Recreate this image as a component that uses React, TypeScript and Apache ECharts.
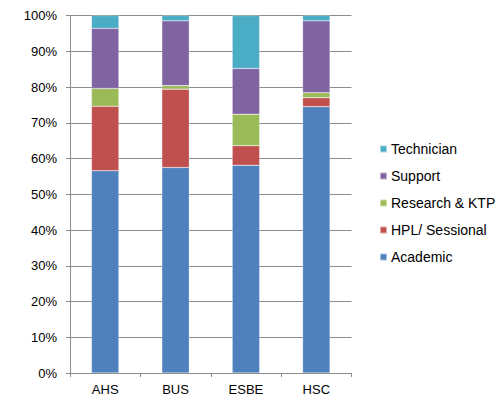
import React, { useEffect, useRef } from "react";
import * as echarts from "echarts";

const categories = ["AHS", "BUS", "ESBE", "HSC"];
const academic = [56.6, 57.5, 58.1, 74.5];
const hplSessional = [18.0, 21.9, 5.5, 2.5];
const researchKtp = [5.0, 1.0, 8.8, 1.4];
const support = [16.8, 18.1, 12.8, 20.1];
const technician = [3.6, 1.5, 14.8, 1.5];
const seriesNames = ["Academic", "HPL/ Sessional", "Research & KTP", "Support", "Technician"];
const seriesColors = ["#4F81BD", "#C0504D", "#9BBB59", "#8064A2", "#4BACC6"];

export default function App() {
  const ref = useRef<HTMLDivElement>(null);
  useEffect(() => {
    if (!ref.current) return;
    const chart = echarts.init(ref.current, undefined, { renderer: "svg" });
    const data = [academic, hplSessional, researchKtp, support, technician];
    const font = "'Liberation Sans', Arial, sans-serif";
    chart.setOption({
      animation: false,
      grid: { left: 70, top: 15.5, right: 151.5, bottom: 24 },
      legend: {
        orient: "vertical",
        left: 374,
        top: 137,
        itemWidth: 7,
        itemHeight: 7,
        itemGap: 13,
        icon: "rect",
        data: [...seriesNames].reverse(),
        textStyle: { fontFamily: font, fontSize: 14, color: "#000", padding: [0, 0, 0, -1] },
      },
      xAxis: {
        type: "category",
        data: categories,
        axisLine: { lineStyle: { color: "#8c8c8c" } },
        axisTick: { show: true, length: 4, lineStyle: { color: "#8c8c8c" } },
        axisLabel: { fontFamily: font, fontSize: 13, color: "#000", margin: 10 },
      },
      yAxis: {
        type: "value",
        min: 0,
        max: 100,
        interval: 10,
        axisLine: { show: true, lineStyle: { color: "#8c8c8c" } },
        axisTick: { show: true, length: 4, lineStyle: { color: "#8c8c8c" } },
        splitLine: { lineStyle: { color: "#8c8c8c" } },
        axisLabel: { formatter: "{value}%", fontFamily: font, fontSize: 13, color: "#000", margin: 13 },
      },
      series: seriesNames.map((name, i) => ({
        name,
        type: "bar",
        stack: "total",
        barWidth: "39%",
        data: data[i],
        itemStyle: { color: seriesColors[i], borderColor: "rgba(255,255,255,0.5)", borderWidth: 0.5 },
      })),
    });
    return () => chart.dispose();
  }, []);
  return <div ref={ref} style={{ width: 503, height: 397, position: "absolute", left: 0, top: 0 }} />;
}
